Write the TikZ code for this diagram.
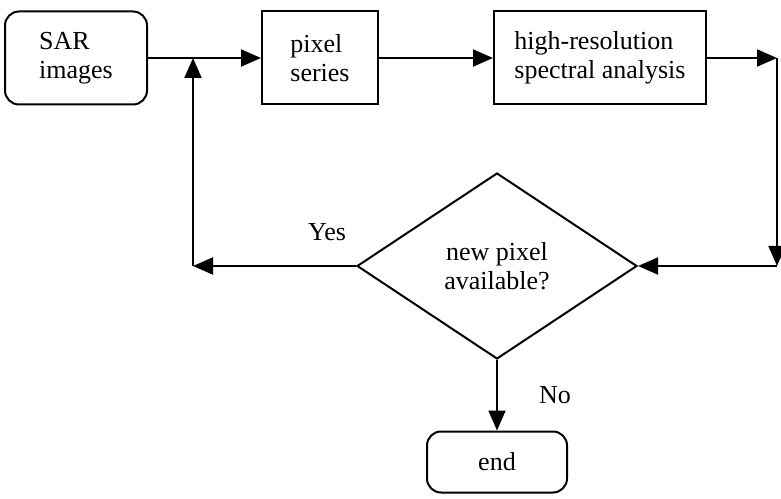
\documentclass[tikz,border=0pt]{standalone}
\usepackage{fontspec}
\setmainfont{Liberation Serif}
\usepackage{tikz}
\usetikzlibrary{arrows.meta,shapes.geometric,positioning,calc}

\begin{document}
\begin{tikzpicture}[
  x=0.5pt, y=0.5pt,
  >={Triangle[length=10pt,width=8.5pt]},
  line width=1pt,
  every node/.style={font=\fontsize{13}{14.5}\selectfont},
  terminal/.style={
    draw, rectangle, rounded corners=7pt, align=left,
    inner sep=0pt, minimum height=46.5pt
  },
  process/.style={
    draw, rectangle, align=left,
    inner sep=0pt, minimum height=46.5pt
  },
  decision/.style={
    draw, diamond, aspect=1.5, align=center,
    inner sep=0pt, minimum width=140pt, minimum height=93pt
  },
  flow/.style={->}
]
\useasboundingbox (0,0) rectangle (781,498);

% --- Nodes ---
\node[terminal, minimum width=71pt] (sar) at (76,440) {SAR\\images};
\node[process, minimum width=58pt] (pixel) at (320,440) {pixel\\series};
\node[process, minimum width=106pt] (spec) at (600,440) {high-resolution\\spectral analysis};
\node[decision] (dec) at (497,232) {new pixel\\available?};
\node[terminal, minimum width=70pt, minimum height=30.5pt] (end) at (497,36) {end};

% --- Corners of the loop ---
\coordinate (rtop) at (777,440);
\coordinate (rbot) at (777,232);
\coordinate (lbot) at (193,232);
\coordinate (ltop) at (193,440);

% --- Connectors ---
\draw[flow] (sar) -- (pixel);
\draw[flow] (pixel) -- (spec);
\draw[flow] (spec) -- (rtop);
\draw[flow] (rtop) -- (rbot);
\draw[flow] (rbot) -- (dec.east);
\draw[flow] (dec.west) -- (lbot);
\draw[flow] (lbot) -- (ltop);
\draw[flow] (dec.south) -- (end);

% --- Labels ---
\node (yes) at (327,266) {Yes};
\node (no) at (555,103) {No};

\end{tikzpicture}
\end{document}
